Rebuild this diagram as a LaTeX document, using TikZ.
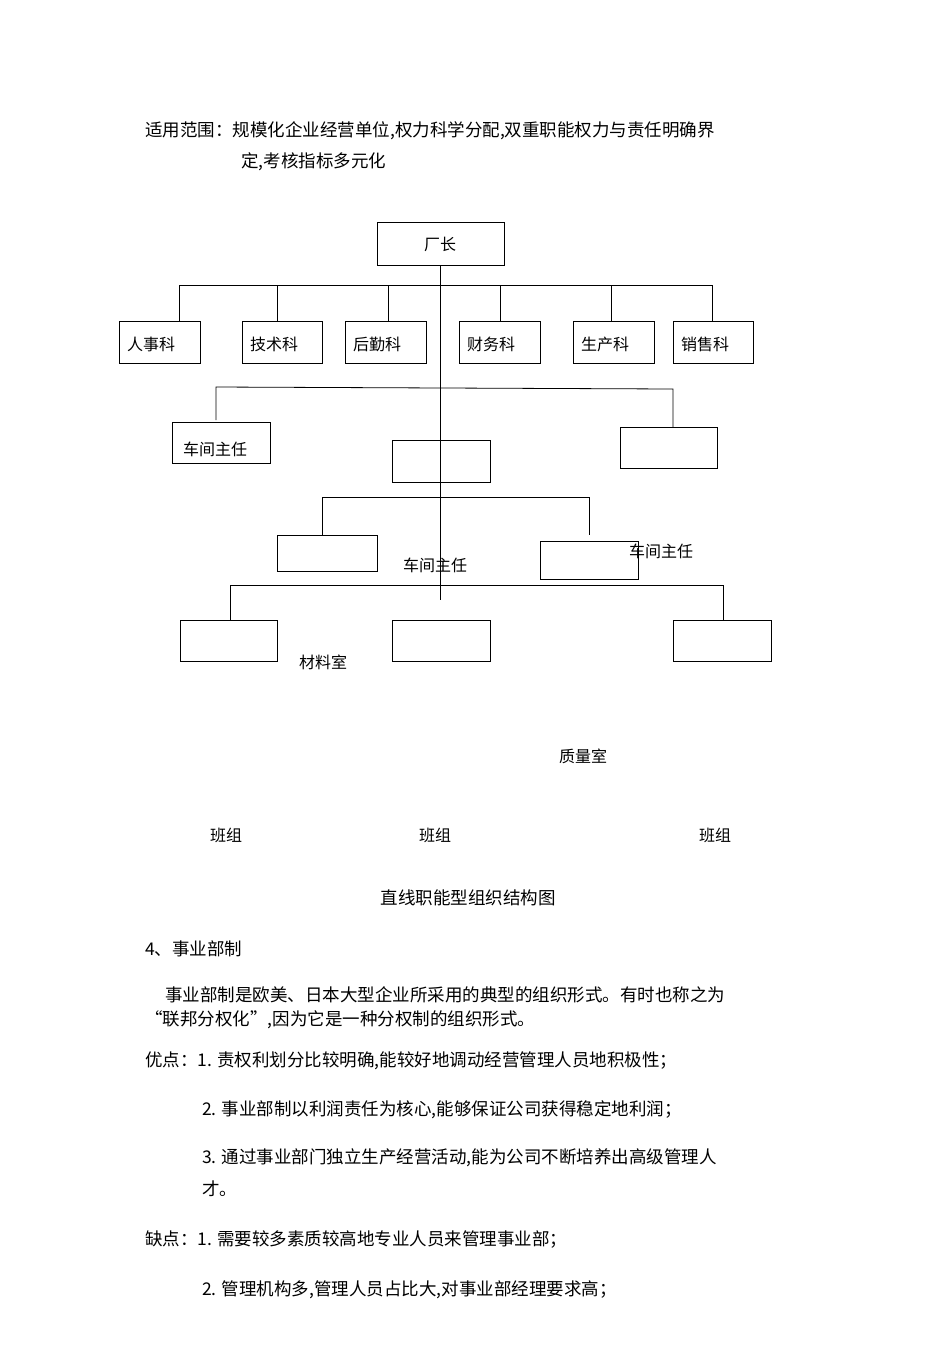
\documentclass[tikz,border=0pt]{standalone}
\usepackage{fontspec}
\setmainfont{Noto Sans CJK SC}
\begin{document}
\begin{tikzpicture}[x=1pt,y=-1pt,
  bx/.style={draw,line width=0.8pt,inner sep=0pt},
  ln/.style={line width=0.8pt},
  tx/.style={anchor=west,inner sep=0pt,font=\fontsize{17.5}{20}\selectfont},
  tc/.style={inner sep=0pt,font=\fontsize{16}{18}\selectfont},
  tl/.style={anchor=west,inner sep=0pt,font=\fontsize{16}{18}\selectfont}]
\useasboundingbox (0,0) rectangle (950,1345);
\fill[white] (0,0) rectangle (950,1345);
% header
\node[tx] (h1) at (145,131) {适用范围：规模化企业经营单位,权力科学分配,双重职能权力与责任明确界};
\node[tx] (h2) at (241,162) {定,考核指标多元化};
% boxes
\draw[bx] (377,222) rectangle (504,265); \node[tc] (cz) at (440,244) {厂长};
\foreach \a/\b/\t/\n in {119/200/人事科/r1,242/322/技术科/r2,345/426/后勤科/r3,459/540/财务科/r4,573/654/生产科/r5,673/753/销售科/r6}{
  \draw[bx] (\a,321) rectangle (\b,363);
  \node[tl] (\n) at (\a+8,344) {\t};
}
\draw[ln] (440,265) -- (440,600);
\draw[ln] (179,285) -- (712,285);
\foreach \x in {179,277,388,500,611,712} \draw[ln] (\x,285) -- (\x,321);
\draw[ln] (216,420) -- (216,387) -- (673,389) -- (673,427);
\draw[bx] (172,422) rectangle (270,463); \node[tl] (c1) at (183,449) {车间主任};
\draw[bx] (620,427) rectangle (717,468);
\draw[bx] (392,440) rectangle (490,482);
\draw[ln] (322,535) -- (322,497) -- (589,497) -- (589,535);
\draw[bx] (277,535) rectangle (377,571);
\draw[bx] (540,541) rectangle (638,579);
\node[tc] (c2) at (435,565) {车间主任};
\node[tc] (c3) at (661,551) {车间主任};
\draw[ln] (230,620) -- (230,585) -- (723,585) -- (723,620);
\draw[bx] (180,620) rectangle (277,661);
\draw[bx] (392,620) rectangle (490,661);
\draw[bx] (673,620) rectangle (771,661);
\node[tc] (m1) at (323,662) {材料室};
\node[tc] (m2) at (583,756) {质量室};
\node[tc] (b1) at (226,835) {班组};
\node[tc] (b2) at (435,835) {班组};
\node[tc] (b3) at (715,835) {班组};
\node[tc,font=\fontsize{17.5}{20}\selectfont] (cap) at (468,898) {直线职能型组织结构图};
% body
\node[tx] (s4) at (145,949) {4、事业部制};
\node[tx] (p1) at (165,995) {事业部制是欧美、日本大型企业所采用的典型的组织形式。有时也称之为};
\node[tx] (p2) at (145,1020) {“联邦分权化”,因为它是一种分权制的组织形式。};
\node[tx] (y1) at (145,1061) {优点：1. 责权利划分比较明确,能较好地调动经营管理人员地积极性；};
\node[tx] (y2) at (202,1110) {2. 事业部制以利润责任为核心,能够保证公司获得稳定地利润；};
\node[tx] (y3) at (202,1158) {3. 通过事业部门独立生产经营活动,能为公司不断培养出高级管理人};
\node[tx] (y4) at (202,1189) {才。};
\node[tx] (q1) at (145,1239) {缺点：1. 需要较多素质较高地专业人员来管理事业部；};
\node[tx] (q2) at (202,1290) {2. 管理机构多,管理人员占比大,对事业部经理要求高；};
\end{tikzpicture}
\end{document}
